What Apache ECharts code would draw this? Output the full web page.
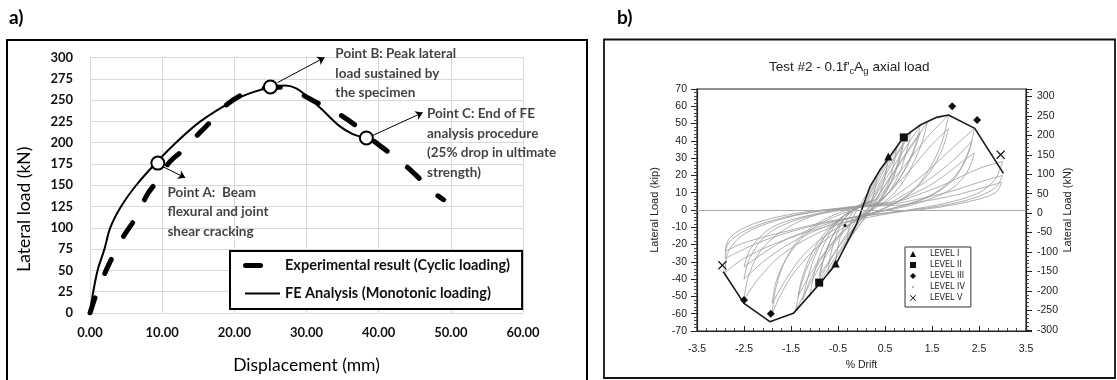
<!DOCTYPE html>
<html>
<head>
<meta charset="utf-8">
<script src="https://cdn.jsdelivr.net/npm/echarts@6/dist/echarts.min.js"></script>
<style>
  html, body { margin: 0; padding: 0; background: #fff; }
  #fig { width: 1117px; height: 380px; }
</style>
</head>
<body>
<div id="fig"></div>
<script>
// ---- panel a : lateral load vs displacement ----
var expDisp = [0, 1, 2.5, 4.5, 6.2, 8, 9.5, 11, 13, 15, 17, 19, 21, 23, 25, 27, 29, 31, 33, 35, 37, 39, 41.5, 44, 46, 48, 49];
var expLoad = [0, 25, 55, 88, 110, 140, 157, 177, 192, 210, 227, 245, 256, 262, 265, 265, 258, 249, 240, 231, 219, 204, 188, 171, 155, 139, 133];
var feDisp = [0, 0.45, 1.05, 2.0, 2.8, 4.3, 6.4, 9.0, 11.9, 15.3, 20, 22.5, 25, 27, 28.5, 30, 32, 34.5, 36.4, 38.3, 38.9];
var feLoad = [0, 25, 50, 75, 100, 125, 150, 175, 200, 225, 250, 259, 265, 267, 264, 255, 240, 220, 210, 205, 203];
var keyPoints = [[9.4, 176], [25, 265.5], [38.3, 205.5]];
var noteText = [
  'Point A:  Beam\nflexural and joint\nshear cracking',
  'Point B: Peak lateral\nload sustained by\nthe specimen',
  'Point C: End of FE\nanalysis procedure\n(25% drop in ultimate\nstrength)'
];
var notePos = [[10.66, 118.8], [33.93, 281.2], [46.63, 199.4]];
var noteArrows = [
  [[10.1, 171.8], [13.2, 158.8]],
  [[26.0, 270.6], [32.5, 300]],
  [[38.8, 207], [46.1, 235.3]]
];

// ---- panel b : hysteresis, % drift vs kip ----
var envelope = [[-2.94, -35.7], [-2.5, -54], [-1.95, -64.6], [-1.45, -59.8], [-0.88, -42.4], [-0.53, -30.8],
  [-0.1, -7.7], [0.18, 13.5], [0.39, 23.1], [0.6, 30.8], [0.89, 42], [1.24, 49], [1.6, 53.6], [1.85, 55],
  [2.41, 47.2], [3.02, 21.2]];
var cycles = [
  [[0.05, 4], [0.2, 13], [0.32, 20], [0.3, 14], [0.22, 6], [0.1, -1], [-0.1, -9], [-0.3, -19], [-0.28, -12], [-0.18, -4], [-0.02, 3], [0.1, 9]],
  [[0.1, 5], [0.35, 20], [0.57, 31], [0.52, 22], [0.42, 12], [0.28, 4], [0.05, -5], [-0.25, -17], [-0.55, -31], [-0.5, -21], [-0.38, -10], [-0.2, -2], [0.05, 4]],
  [[0.12, 5], [0.42, 22], [0.75, 37], [0.68, 26], [0.55, 14], [0.36, 5], [0.1, -4], [-0.2, -14], [-0.45, -24], [-0.72, -37], [-0.65, -25], [-0.5, -12], [-0.3, -3], [0.12, 5]],
  [[0.15, 5], [0.5, 24], [0.9, 42], [0.82, 32], [0.68, 20], [0.48, 9], [0.2, 0], [-0.15, -10], [-0.5, -25], [-0.9, -42], [-0.82, -30], [-0.65, -17], [-0.4, -6], [-0.1, 2], [0.15, 5]],
  [[0.2, 5], [0.55, 24], [0.9, 39], [0.8, 28], [0.6, 14], [0.35, 4], [0, -5], [-0.5, -22], [-0.9, -38], [-0.78, -26], [-0.55, -12], [-0.25, -2], [0.2, 5]],
  [[0.22, 5], [0.65, 27], [1.05, 45], [0.96, 34], [0.8, 21], [0.55, 9], [0.25, 1], [-0.1, -6], [-0.55, -24], [-0.85, -38], [-1.1, -50], [-1.0, -36], [-0.8, -20], [-0.5, -7], [-0.15, 1], [0.22, 5]],
  [[0.25, 6], [0.7, 26], [1.25, 49], [1.15, 38], [0.95, 25], [0.65, 12], [0.3, 3], [-0.1, -5], [-0.6, -20], [-1.0, -38], [-1.4, -58], [-1.3, -45], [-1.1, -30], [-0.75, -14], [-0.35, -3], [0.25, 6]],
  [[0.3, 6], [0.8, 27], [1.25, 45], [1.1, 33], [0.85, 20], [0.5, 8], [0.1, 0], [-0.5, -15], [-1.0, -33], [-1.35, -50], [-1.25, -38], [-1.0, -22], [-0.6, -8], [-0.1, 1], [0.3, 6]],
  [[0.3, 6], [0.85, 28], [1.4, 51], [1.3, 40], [1.1, 27], [0.8, 13], [0.4, 3], [-0.1, -5], [-0.7, -22], [-1.05, -38], [-1.25, -52], [-1.15, -40], [-0.95, -24], [-0.6, -9], [-0.2, 0], [0.3, 6]],
  [[0.3, 5], [0.9, 25], [1.4, 42], [1.85, 55], [1.72, 40], [1.45, 24], [1.05, 10], [0.5, 1], [-0.1, -6], [-0.8, -18], [-1.4, -35], [-1.7, -48], [-1.9, -60], [-1.82, -45], [-1.6, -28], [-1.2, -13], [-0.6, -3], [0.3, 5]],
  [[0.4, 5], [1.0, 22], [1.5, 38], [1.85, 47], [1.7, 34], [1.4, 20], [0.9, 7], [0.3, -1], [-0.5, -10], [-1.2, -25], [-1.6, -40], [-1.9, -54], [-1.8, -40], [-1.5, -24], [-1.0, -10], [-0.3, -1], [0.4, 5]],
  [[0.5, 4], [1.3, 20], [1.9, 35], [2.4, 47], [2.28, 34], [2.0, 20], [1.5, 9], [0.8, 2], [0, -4], [-0.9, -13], [-1.7, -26], [-2.2, -40], [-2.5, -52], [-2.4, -38], [-2.1, -22], [-1.5, -9], [-0.7, -1], [0.5, 4]],
  [[0.6, 4], [1.4, 17], [2.0, 30], [2.35, 40], [2.2, 28], [1.9, 16], [1.3, 6], [0.5, 0], [-0.4, -6], [-1.3, -16], [-2.0, -28], [-2.5, -40], [-2.38, -28], [-2.0, -14], [-1.3, -5], [-0.4, 0], [0.6, 4]],
  [[0.6, 3], [1.5, 15], [2.1, 27], [2.4, 33], [2.25, 22], [1.9, 12], [1.2, 4], [0.4, -1], [-0.6, -7], [-1.6, -17], [-2.2, -27], [-2.5, -33], [-2.35, -22], [-1.9, -10], [-1.1, -3], [-0.3, 1], [0.6, 3]],
  [[0.8, 5], [1.7, 14], [2.5, 24], [3.0, 28], [2.85, 18], [2.5, 10], [1.8, 4], [1.0, 0], [0.2, -4], [-0.8, -10], [-1.8, -19], [-2.5, -28], [-2.9, -36], [-2.85, -25], [-2.5, -14], [-1.8, -6], [-1.0, -1], [-0.2, 2], [0.8, 5]],
  [[0.8, 4], [1.8, 10], [2.5, 16], [3.0, 20], [2.85, 13], [2.4, 7], [1.6, 2], [0.7, -1], [-0.3, -5], [-1.3, -11], [-2.2, -19], [-2.9, -28], [-2.85, -20], [-2.4, -11], [-1.6, -4], [-0.7, 0], [0.8, 4]],
  [[0.9, 3], [1.9, 8], [2.6, 13], [2.98, 16], [2.85, 10], [2.3, 5], [1.5, 1], [0.5, -2], [-0.6, -6], [-1.7, -13], [-2.5, -19], [-2.9, -24], [-2.8, -16], [-2.3, -8], [-1.4, -2], [-0.4, 1], [0.9, 3]]
];
var levelNames = ['LEVEL I', 'LEVEL II', 'LEVEL III', 'LEVEL IV', 'LEVEL V'];
var levelPoints = [
  [[0.57, 31], [-0.55, -31]],
  [[0.9, 42], [-0.9, -42]],
  [[1.93, 60], [2.46, 52], [-2.5, -52], [-1.93, -60]],
  [[-0.35, -9]],
  [[-2.96, -32], [2.96, 32]]
];

var crossPath = 'path://M0,1L1,0L5,4L9,0L10,1L6,5L10,9L9,10L5,6L1,10L0,9L4,5Z';
var levelSymbols = ['triangle', 'rect', 'diamond', 'circle', crossPath];
var levelSizes = [8, 8, 8, 3, 9];
// legend icons drawn in a 10x10 box so they keep a square aspect
var levelIcons = [
  'path://M5,0L10,10L0,10Z',
  'path://M0,0L10,0L10,10L0,10Z',
  'path://M5,0L10,5L5,10L0,5Z',
  'path://M0,0M10,10M4,4L6,4L6,6L4,6Z',
  crossPath
];

var myChart = echarts.init(document.getElementById('fig'), null, {renderer: 'canvas'});

var series = [];

// panel a
series.push({
  name: 'Experimental result (Cyclic loading)',
  type: 'line',
  xAxisIndex: 0, yAxisIndex: 0,
  data: expDisp.map(function (d, i) { return [d, expLoad[i]]; }),
  smooth: 0.3,
  symbol: 'none',
  color: '#000',
  lineStyle: {color: '#000', width: 5, type: [16, 26], cap: 'round'},
  z: 3
});
series.push({
  name: 'FE Analysis (Monotonic loading)',
  type: 'line',
  xAxisIndex: 0, yAxisIndex: 0,
  data: feDisp.map(function (d, i) { return [d, feLoad[i]]; }),
  smooth: 0.3,
  symbol: 'none',
  color: '#000',
  lineStyle: {color: '#000', width: 2},
  z: 4,
  markLine: {
    silent: true,
    symbol: ['none', 'arrow'],
    symbolSize: 7,
    lineStyle: {color: '#000', width: 1, type: 'solid'},
    label: {show: false},
    data: noteArrows.map(function (a) {
      return [{coord: a[0]}, {coord: a[1]}];
    })
  }
});
series.push({
  name: 'key points',
  type: 'scatter',
  xAxisIndex: 0, yAxisIndex: 0,
  data: keyPoints,
  symbol: 'circle',
  symbolSize: 13,
  itemStyle: {color: '#fff', borderColor: '#000', borderWidth: 2, opacity: 1},
  silent: true,
  z: 5
});
series.push({
  name: 'notes',
  type: 'scatter',
  xAxisIndex: 0, yAxisIndex: 0,
  clip: false,
  data: notePos.map(function (p, i) { return {value: p, name: noteText[i]}; }),
  symbolSize: 1,
  itemStyle: {color: 'rgba(0,0,0,0)'},
  silent: true,
  label: {
    show: true,
    position: 'right',
    distance: 0,
    formatter: '{b}',
    fontFamily: 'Lato',
    fontWeight: 'bold',
    fontSize: 13.5,
    lineHeight: 19.5,
    color: '#111'
  },
  z: 6
});

// panel b
cycles.forEach(function (c, i) {
  series.push({
    name: 'cycle ' + (i + 1),
    type: 'line',
    xAxisIndex: 1, yAxisIndex: 1,
    data: c,
    smooth: 0.35,
    symbol: 'none',
    silent: true,
    lineStyle: {color: '#9c9c9c', width: 0.8},
    z: 2
  });
});
series.push({
  name: 'envelope',
  type: 'line',
  xAxisIndex: 1, yAxisIndex: 1,
  data: envelope,
  symbol: 'none',
  silent: true,
  lineStyle: {color: '#1a1a1a', width: 1.6},
  z: 4,
  markLine: {
    silent: true,
    symbol: ['none', 'none'],
    lineStyle: {color: '#aaa', width: 1, type: 'solid'},
    label: {show: false},
    data: [{yAxis: 0}]
  }
});
levelNames.forEach(function (n, i) {
  series.push({
    name: n,
    type: 'scatter',
    xAxisIndex: 1, yAxisIndex: 1,
    data: levelPoints[i],
    symbol: levelSymbols[i],
    symbolSize: levelSizes[i],
    itemStyle: {color: '#111', opacity: 1},
    silent: true,
    z: 6
  });
});

var option = {
  animation: false,
  backgroundColor: '#fff',
  title: {
    text: '{n|Test #2 - 0.1f\'}{s|c}{n|A}{s|g}{n| axial load}',
    left: 769,
    top: 59,
    padding: 0,
    textStyle: {
      fontWeight: 'normal',
      rich: {
        n: {fontFamily: 'Liberation Sans', fontWeight: 'normal', fontSize: 13.5, color: '#222'},
        s: {fontFamily: 'Liberation Sans', fontWeight: 'normal', fontSize: 9.5, color: '#222', padding: [7, 0, 0, 0]}
      }
    }
  },
  legend: [
    {
      data: [
        {name: 'Experimental result (Cyclic loading)',
         icon: 'path://M0,0M37,14M2.5,4.5L17.5,4.5A2.5,2.5,0,0,1,17.5,9.5L2.5,9.5A2.5,2.5,0,0,1,2.5,4.5Z'},
        {name: 'FE Analysis (Monotonic loading)',
         icon: 'path://M0,0M37,14M2,6L37,6L37,8L2,8Z'}
      ],
      orient: 'vertical',
      left: 230,
      top: 251,
      itemWidth: 37,
      itemHeight: 14,
      itemGap: 13,
      padding: [7, 12, 8, 13],
      borderColor: '#000',
      borderWidth: 2,
      borderRadius: 0,
      backgroundColor: '#fff',
      selectedMode: false,
      symbolKeepAspect: true,
      itemStyle: {color: '#000', borderWidth: 0},
      textStyle: {fontFamily: 'Lato', fontWeight: 'bold', fontSize: 14.5, color: '#111'}
    },
    {
      data: levelNames.map(function (n, i) { return {name: n, icon: levelIcons[i]}; }),
      orient: 'vertical',
      left: 905,
      top: 247,
      itemWidth: 24,
      itemHeight: 6,
      itemGap: 3,
      padding: [3, 6, 5, 5],
      borderColor: '#333',
      borderWidth: 1,
      borderRadius: 0,
      backgroundColor: '#fff',
      selectedMode: false,
      symbolKeepAspect: true,
      itemStyle: {color: '#111', borderWidth: 0},
      textStyle: {fontFamily: 'DejaVu Sans', fontSize: 8, color: '#222'}
    }
  ],
  grid: [
    {left: 90, top: 57.5, width: 433, height: 255.5, outerBoundsMode: 'none'},
    {left: 697, top: 89, width: 329, height: 242, show: true, borderColor: '#222', borderWidth: 1.2,
     backgroundColor: 'rgba(0,0,0,0)', outerBoundsMode: 'none'}
  ],
  xAxis: [
    {
      gridIndex: 0, type: 'value', min: 0, max: 60, interval: 10,
      name: 'Displacement (mm)', nameLocation: 'middle', nameGap: 43,
      nameTextStyle: {fontFamily: 'Lato', fontSize: 17.5, color: '#000'},
      axisLine: {show: false}, axisTick: {show: false},
      axisLabel: {margin: 13, fontFamily: 'Lato', fontWeight: 'bold', fontSize: 13, color: '#111',
        formatter: function (v) { return v.toFixed(2); }},
      splitLine: {show: true, lineStyle: {color: '#d9d9d9', width: 1}}
    },
    {
      gridIndex: 1, type: 'value', min: -3.5, max: 3.5, interval: 1,
      name: '% Drift', nameLocation: 'middle', nameGap: 28,
      nameTextStyle: {fontFamily: 'Liberation Sans', fontSize: 10.5, color: '#222'},
      axisLine: {show: true, onZero: false, lineStyle: {color: '#222', width: 1.2}},
      axisTick: {show: true, inside: true, length: 5, lineStyle: {color: '#222'}},
      minorTick: {show: true, splitNumber: 5, length: 3, lineStyle: {color: '#444'}},
      axisLabel: {margin: 13, fontFamily: 'Liberation Sans', fontSize: 10.5, color: '#222'},
      splitLine: {show: false}
    }
  ],
  yAxis: [
    {
      gridIndex: 0, type: 'value', min: 0, max: 300, interval: 25,
      name: 'Lateral load (kN)', nameLocation: 'middle', nameGap: 57,
      nameTextStyle: {fontFamily: 'Lato', fontSize: 17.5, color: '#000', padding: [0, 48, 0, 0]},
      axisLine: {show: false}, axisTick: {show: false},
      axisLabel: {margin: 17, fontFamily: 'Lato', fontWeight: 'bold', fontSize: 13, color: '#111'},
      splitLine: {show: true, lineStyle: {color: '#d9d9d9', width: 1}}
    },
    {
      gridIndex: 1, type: 'value', min: -70, max: 70, interval: 10,
      name: 'Lateral Load (kip)', nameLocation: 'middle', nameGap: 37,
      nameTextStyle: {fontFamily: 'Liberation Sans', fontSize: 11, color: '#222'},
      axisLine: {show: true, onZero: false, lineStyle: {color: '#222', width: 1.2}},
      axisTick: {show: true, inside: false, length: 6, lineStyle: {color: '#222'}},
      minorTick: {show: true, splitNumber: 5, length: 3, lineStyle: {color: '#444'}},
      axisLabel: {margin: 10, fontFamily: 'Liberation Sans', fontSize: 10.5, color: '#222'},
      splitLine: {show: false}
    },
    {
      gridIndex: 1, type: 'value', position: 'right', min: -303, max: 319, splitNumber: 12,
      name: 'Lateral Load (kN)', nameLocation: 'middle', nameGap: 36,
      nameTextStyle: {fontFamily: 'Liberation Sans', fontSize: 11, color: '#222'},
      axisLine: {show: true, onZero: false, lineStyle: {color: '#222', width: 1.2}},
      axisTick: {show: true, inside: false, length: 6, lineStyle: {color: '#222'}},
      minorTick: {show: true, splitNumber: 5, length: 3, lineStyle: {color: '#444'}},
      axisLabel: {margin: 11, fontFamily: 'Liberation Sans', fontSize: 10.5, color: '#222',
        showMinLabel: false, showMaxLabel: false,
        formatter: function (v) { return (Math.round(v) % 50 === 0) ? String(Math.round(v)) : ''; }},
      splitLine: {show: false}
    }
  ],
  graphic: [
    {type: 'rect', silent: true, shape: {x: 7, y: 40, width: 580, height: 360},
     style: {fill: 'none', stroke: '#000', lineWidth: 2}},
    {type: 'rect', silent: true, shape: {x: 604, y: 39.5, width: 511, height: 338.5},
     style: {fill: 'none', stroke: '#111', lineWidth: 1.8}},
    {type: 'text', silent: true, left: 9, top: 8,
     style: {text: 'a)', fontFamily: 'Lato', fontWeight: 'bold', fontSize: 19, fill: '#000'}},
    {type: 'text', silent: true, left: 617, top: 8,
     style: {text: 'b)', fontFamily: 'Lato', fontWeight: 'bold', fontSize: 19, fill: '#000'}}
  ],
  series: series
};
myChart.setOption(option);
</script>
</body>
</html>
